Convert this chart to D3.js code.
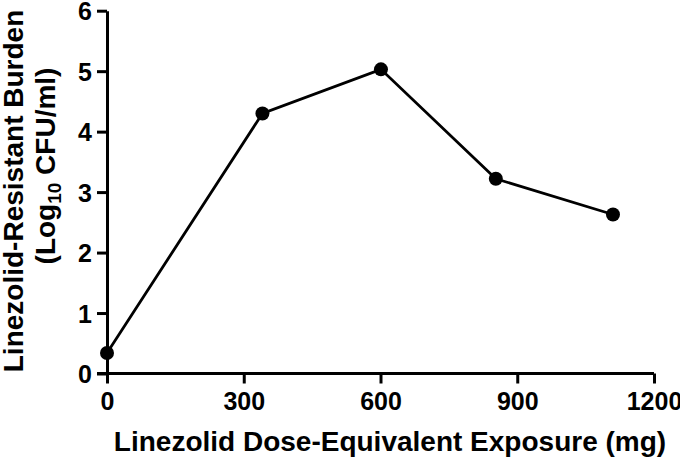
<!DOCTYPE html>
<html><head><meta charset="utf-8">
<script src="https://cdn.jsdelivr.net/npm/d3@7"></script>
<style>
html,body{margin:0;padding:0;background:#fff;}
svg text{font-family:"Liberation Sans",Arial,Helvetica,sans-serif;font-weight:bold;fill:#000;}
</style></head>
<body>
<svg id="chart" width="680" height="460"></svg>
<script>
const exposureMg = [0, 341, 601, 853, 1110];
const resistantBurden = [0.34, 4.30, 5.03, 3.22, 2.63];
const xTicks = [0, 300, 600, 900, 1200];
const yTicks = [0, 1, 2, 3, 4, 5, 6];
const xTitle = "Linezolid Dose-Equivalent Exposure (mg)";
const yTitle1 = "Linezolid-Resistant Burden";

const svg = d3.select("#chart");
const x = d3.scaleLinear().domain([0, 1200]).range([107, 654]);
const y = d3.scaleLinear().domain([0, 6]).range([373.5, 10.7]);

const xAxis = svg.append("g").attr("transform", `translate(0,${y(0)})`)
  .call(d3.axisBottom(x).tickValues(xTicks).tickFormat(d3.format("d"))
    .tickSize(10).tickSizeOuter(0).tickPadding(9));
const yAxis = svg.append("g").attr("transform", `translate(${x(0)},0)`)
  .call(d3.axisLeft(y).tickValues(yTicks).tickFormat(d3.format("d"))
    .tickSize(10).tickSizeOuter(0).tickPadding(5));

[xAxis, yAxis].forEach(g => {
  g.attr("font-size", null).attr("font-family", null);
  g.select(".domain").attr("stroke", "#000").attr("stroke-width", 3);
  g.selectAll(".tick line").attr("stroke", "#000").attr("stroke-width", 3);
  g.selectAll(".tick text").style("font-size", "25px").attr("fill", "#000");
});
xAxis.select(".domain").attr("d", `M${x(0)-10},0H${x(1200)}`);
yAxis.selectAll(".tick text").attr("dy", "0.36em");
xAxis.selectAll(".tick text").attr("dy", "0.71em");

const data = exposureMg.map((v, i) => ({x: v, y: resistantBurden[i]}));
const line = d3.line().x(d => x(d.x)).y(d => y(d.y));
svg.append("path").datum(data).attr("d", line)
  .attr("fill", "none").attr("stroke", "#000").attr("stroke-width", 2.8);
svg.selectAll("circle.pt").data(data).enter().append("circle")
  .attr("class", "pt").attr("cx", d => x(d.x)).attr("cy", d => y(d.y))
  .attr("r", 7).attr("fill", "#000");

svg.append("text").attr("x", 390).attr("y", 451).attr("text-anchor", "middle")
  .style("font-size", "28px").text(xTitle);

svg.append("text").attr("transform", "translate(23,191) rotate(-90)")
  .attr("text-anchor", "middle").style("font-size", "28px").text(yTitle1);
const t2 = svg.append("text").attr("transform", "translate(55,166) rotate(-90)")
  .attr("text-anchor", "middle").style("font-size", "28px");
t2.append("tspan").text("(Log");
t2.append("tspan").attr("dy", 6).style("font-size", "19px").text("10");
t2.append("tspan").attr("dy", -6).text(" CFU/ml)");
</script>
</body></html>
